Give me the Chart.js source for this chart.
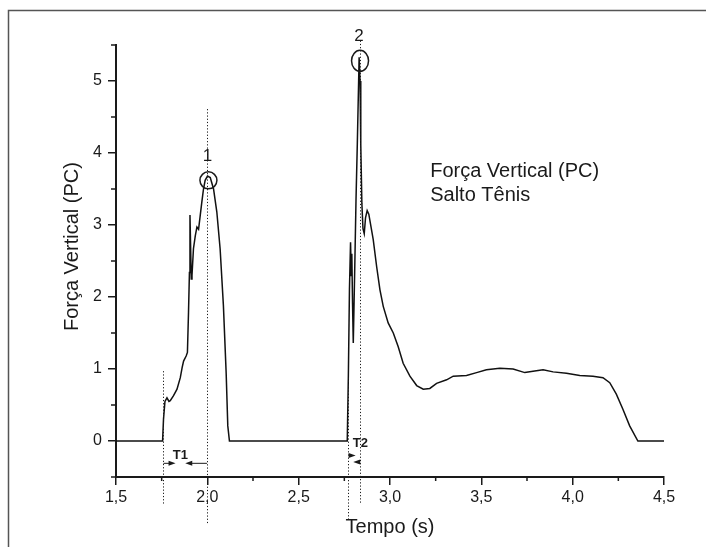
<!DOCTYPE html>
<html>
<head>
<meta charset="utf-8">
<script src="https://cdn.jsdelivr.net/npm/chart.js@4.4.1/dist/chart.umd.min.js"></script>
<style>
  body { margin: 0; background: #fff; }
  canvas { display: block; }
</style>
</head>
<body>
<canvas id="forcaChart" width="706" height="547"></canvas>
<script>
// Dados: Tempo (s) x Força Vertical (PC)
const tempo = [1.50, 1.755, 1.760, 1.768, 1.779, 1.790, 1.797, 1.815, 1.834, 1.852, 1.862, 1.870, 1.884, 1.891, 1.897,
  1.902, 1.905, 1.912, 1.916, 1.924, 1.934, 1.943, 1.952, 1.961, 1.970, 1.979, 1.988, 2.001, 2.016, 2.034, 2.052,
  2.070, 2.088, 2.103, 2.112, 2.121, 2.766, 2.772, 2.778, 2.784, 2.788, 2.791, 2.795, 2.799, 2.807, 2.814, 2.821,
  2.831, 2.836, 2.840, 2.846, 2.852, 2.859, 2.866, 2.875, 2.884, 2.908, 2.927, 2.945, 2.963, 2.990, 3.018, 3.045,
  3.072, 3.109, 3.146, 3.182, 3.218, 3.255, 3.310, 3.346, 3.419, 3.474, 3.528, 3.601, 3.674, 3.738, 3.783, 3.838,
  3.893, 3.966, 4.039, 4.111, 4.166, 4.203, 4.239, 4.275, 4.312, 4.357, 4.50];
const forca = [0, 0, 0.30, 0.55, 0.60, 0.55, 0.56, 0.63, 0.72, 0.88, 1.02, 1.11, 1.18, 1.23, 1.79,
  2.34, 3.14, 2.25, 2.30, 2.67, 2.85, 2.97, 2.94, 3.13, 3.32, 3.50, 3.62, 3.68, 3.66, 3.50, 3.18,
  2.67, 1.88, 0.95, 0.21, 0, 0, 0.9, 2.1, 2.76, 2.3, 2.6, 1.9, 1.36, 2.4, 3.36, 4.12,
  5.33, 5.0, 4.12, 3.3, 2.95, 2.88, 3.10, 3.20, 3.15, 2.80, 2.42, 2.10, 1.87, 1.64, 1.50, 1.31,
  1.08, 0.90, 0.77, 0.72, 0.73, 0.80, 0.85, 0.90, 0.91, 0.95, 0.99, 1.01, 1.00, 0.95, 0.97, 0.99,
  0.96, 0.94, 0.91, 0.90, 0.88, 0.81, 0.65, 0.44, 0.21, 0, 0];

// Marcas dos eixos
const ticksX = [1.5, 2.0, 2.5, 3.0, 3.5, 4.0, 4.5];
const ticksY = [0, 1, 2, 3, 4, 5];
const minorX = [1.75, 2.25, 2.75, 3.25, 3.75, 4.25];
const minorY = [-0.5, 0.5, 1.5, 2.5, 3.5, 4.5, 5.5];

// Anotações (em unidades dos eixos)
const linhasX = [1.757, 2.0, 2.768, 2.837];
const linhasTopo = [0.97, 4.61, 0.88, 5.56];
const linhasBase = [-0.88, -1.14, -1.09, -0.88];
const picosX = [2.006, 2.836];
const picosY = [3.62, 5.28];
const picosNome = ['1', '2'];
const nomesY = [3.96, 5.62];
const textoInfo = ['Força Vertical (PC)', 'Salto Tênis'];
const tituloY = 'Força Vertical (PC)';

const FONTE = '"Liberation Sans", Arial, sans-serif';
const COR = '#1a1a1a';

// Moldura cinza no fundo
const moldura = {
  id: 'moldura',
  beforeDraw(chart) {
    const c = chart.ctx;
    c.save();
    c.fillStyle = '#fff';
    c.fillRect(0, 0, chart.width, chart.height);
    c.strokeStyle = '#555';
    c.lineWidth = 1.5;
    c.beginPath();
    c.moveTo(chart.width, 10.5);
    c.lineTo(8.5, 10.5);
    c.lineTo(8.5, chart.height);
    c.stroke();
    c.restore();
  }
};

function seta(c, x0, x1, y) {
  // linha com ponta cheia em x1
  const dir = Math.sign(x1 - x0);
  c.beginPath();
  c.moveTo(x0, y);
  c.lineTo(x1 - dir * 6, y);
  c.stroke();
  c.beginPath();
  c.moveTo(x1, y);
  c.lineTo(x1 - dir * 7, y - 2.5);
  c.lineTo(x1 - dir * 7, y + 2.5);
  c.closePath();
  c.fill();
}

const anotacoes = {
  id: 'anotacoes',
  afterDraw(chart) {
    const c = chart.ctx;
    const sx = chart.scales.x, sy = chart.scales.y;
    const px = v => sx.getPixelForValue(v);
    const py = v => sy.getPixelForValue(v);
    c.save();

    // marcas menores
    c.strokeStyle = COR;
    c.lineWidth = 1.5;
    minorX.forEach(v => {
      c.beginPath();
      c.moveTo(px(v), sx.top);
      c.lineTo(px(v), sx.top + 4);
      c.stroke();
    });
    minorY.forEach(v => {
      c.beginPath();
      c.moveTo(sy.right, py(v));
      c.lineTo(sy.right - 5, py(v));
      c.stroke();
    });

    // linhas pontilhadas verticais
    c.lineWidth = 1;
    c.setLineDash([1.2, 2]);
    linhasX.forEach((v, i) => {
      c.beginPath();
      c.moveTo(Math.round(px(v)) + 0.5, py(linhasTopo[i]));
      c.lineTo(Math.round(px(v)) + 0.5, py(linhasBase[i]));
      c.stroke();
    });
    c.setLineDash([]);

    // círculos nos picos
    c.lineWidth = 1.5;
    c.beginPath();
    c.ellipse(px(picosX[0]), py(picosY[0]), 8.5, 8.5, 0, 0, Math.PI * 2);
    c.stroke();
    c.beginPath();
    c.ellipse(px(picosX[1]), py(picosY[1]), 8.5, 10.5, 0, 0, Math.PI * 2);
    c.stroke();

    c.fillStyle = COR;
    c.font = '17px ' + FONTE;
    c.textAlign = 'center';
    c.textBaseline = 'middle';
    picosNome.forEach((t, i) => c.fillText(t, px(picosX[i]) - 1, py(nomesY[i])));

    // T1 e T2
    c.font = 'bold 13px ' + FONTE;
    c.fillText('T1', px(1.852), py(-0.20));
    c.fillText('T2', px(2.838), py(-0.03));
    c.lineWidth = 1;
    seta(c, px(1.760), px(1.826), py(-0.31));
    seta(c, px(1.998), px(1.879), py(-0.31));
    // setas pequenas de T2
    const a = px(2.768) + 1, b = px(2.837);
    let y2 = py(-0.20);
    c.beginPath(); c.moveTo(a, y2 - 2.5); c.lineTo(a + 7, y2); c.lineTo(a, y2 + 2.5); c.closePath(); c.fill();
    y2 = py(-0.29);
    c.beginPath(); c.moveTo(b, y2 - 2.5); c.lineTo(b - 7, y2); c.lineTo(b, y2 + 2.5); c.closePath(); c.fill();

    // legenda de texto
    c.font = '20px ' + FONTE;
    c.textAlign = 'left';
    c.fillText(textoInfo[0], px(3.22), py(3.75));
    c.fillText(textoInfo[1], px(3.22), py(3.41));

    // título do eixo Y
    c.textAlign = 'center';
    c.translate(72, py(2.7));
    c.rotate(-Math.PI / 2);
    c.fillText(tituloY, 0, 0);
    c.restore();
  }
};

const ctx = document.getElementById('forcaChart').getContext('2d');
new Chart(ctx, {
  type: 'line',
  data: {
    datasets: [{
      data: tempo.map((t, i) => ({ x: t, y: forca[i] })),
      borderColor: '#111',
      borderWidth: 1.5,
      pointRadius: 0,
      tension: 0,
      fill: false
    }]
  },
  options: {
    responsive: false,
    animation: false,
    layout: { padding: { top: 45, right: 42, bottom: 0, left: 0 } },
    plugins: {
      legend: { display: false },
      tooltip: { enabled: false }
    },
    scales: {
      x: {
        type: 'linear',
        min: 1.5,
        max: 4.5,
        afterBuildTicks: s => { s.ticks = ticksX.map(v => ({ value: v })); },
        afterFit: s => { s.height = 70; },
        grid: { drawOnChartArea: false, tickLength: 8, color: COR, lineWidth: 1.5 },
        border: { color: COR, width: 2 },
        ticks: {
          callback: v => v.toFixed(1).replace('.', ','),
          font: { size: 16, family: FONTE },
          color: COR,
          padding: 3,
          maxRotation: 0,
          autoSkip: false
        },
        title: {
          display: true,
          text: 'Tempo (s)',
          font: { size: 20, family: FONTE },
          color: COR,
          padding: { top: 0, bottom: 8 }
        }
      },
      y: {
        min: -0.5,
        max: 5.5,
        afterBuildTicks: s => { s.ticks = ticksY.map(v => ({ value: v })); },
        afterFit: s => { s.width = 116; },
        grid: { drawOnChartArea: false, tickLength: 8, color: COR, lineWidth: 1.5 },
        border: { color: COR, width: 2 },
        ticks: {
          callback: v => String(v),
          font: { size: 16, family: FONTE },
          color: COR,
          padding: 6
        }
      }
    }
  },
  plugins: [moldura, anotacoes]
});
</script>
</body>
</html>
